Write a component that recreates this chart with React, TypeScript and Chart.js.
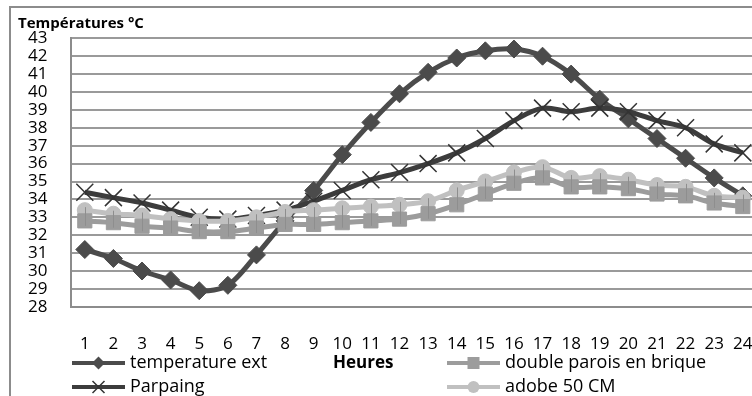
import React, { useEffect, useRef } from 'react';
import { Chart, registerables } from 'chart.js';

Chart.register(...registerables);

const hours = ['1', '2', '3', '4', '5', '6', '7', '8', '9', '10', '11', '12', '13', '14', '15', '16', '17', '18', '19', '20', '21', '22', '23', '24'];
const temperatureExt = [31.2, 30.7, 30.0, 29.5, 28.9, 29.2, 30.9, 32.8, 34.5, 36.5, 38.3, 39.9, 41.1, 41.9, 42.3, 42.4, 42.0, 41.0, 39.6, 38.5, 37.4, 36.3, 35.2, 34.2];
const parpaing = [34.4, 34.1, 33.8, 33.4, 33.0, 32.9, 33.1, 33.4, 33.9, 34.5, 35.1, 35.5, 36.0, 36.6, 37.4, 38.4, 39.1, 38.9, 39.1, 38.9, 38.4, 38.0, 37.1, 36.6];
const doubleParois = [32.8, 32.7, 32.5, 32.4, 32.2, 32.2, 32.4, 32.6, 32.6, 32.7, 32.8, 32.9, 33.2, 33.7, 34.3, 34.9, 35.2, 34.7, 34.7, 34.6, 34.3, 34.2, 33.8, 33.6];
const adobe = [33.4, 33.2, 33.1, 32.9, 32.8, 32.8, 33.0, 33.3, 33.4, 33.5, 33.6, 33.7, 33.9, 34.5, 35.0, 35.5, 35.8, 35.2, 35.3, 35.1, 34.8, 34.7, 34.2, 34.1];
const yMin = 28;
const yMax = 43;

const FONT = '"Open Sans", Lato, sans-serif';
const CW = 780;
const CH = 420;

const C_TEMP = '#4b4b4b';
const C_PARP = '#3c3c3c';
const C_BRIQ = '#9c9c9c';
const C_ADOB = '#c0c0c0';

function drawMarker(ctx: CanvasRenderingContext2D, kind: string, x: number, y: number, color: string) {
  ctx.save();
  ctx.fillStyle = color;
  ctx.strokeStyle = color;
  ctx.beginPath();
  if (kind === 'diamond') {
    const r = 6.5;
    ctx.moveTo(x, y - r); ctx.lineTo(x + r, y); ctx.lineTo(x, y + r); ctx.lineTo(x - r, y); ctx.closePath(); ctx.fill();
  } else if (kind === 'square') {
    const s = 6;
    ctx.rect(x - s, y - s, 2 * s, 2 * s); ctx.fill();
  } else if (kind === 'circle') {
    ctx.arc(x, y, 6, 0, Math.PI * 2); ctx.fill();
  } else if (kind === 'cross') {
    const r = 6;
    ctx.lineWidth = 1.5;
    ctx.strokeStyle = '#333';
    ctx.moveTo(x - r, y - r); ctx.lineTo(x + r, y + r);
    ctx.moveTo(x + r, y - r); ctx.lineTo(x - r, y + r);
    ctx.stroke();
  }
  ctx.restore();
}

const decorPlugin = {
  id: 'decor',
  beforeDraw(chart: any) {
    const ctx = chart.ctx as CanvasRenderingContext2D;
    ctx.save();
    ctx.fillStyle = '#ffffff';
    ctx.fillRect(0, 0, chart.width, chart.height);
    ctx.strokeStyle = '#8c8c8c';
    ctx.lineWidth = 2;
    ctx.strokeRect(10, 7, 2000, 2000);
    ctx.restore();
  },
  afterDatasetsDraw(chart: any) {
    // thin vertical bars joining the adobe and brick points
    const ctx = chart.ctx as CanvasRenderingContext2D;
    const x = chart.scales.x;
    const y = chart.scales.y;
    ctx.save();
    ctx.strokeStyle = '#8e8e8e';
    ctx.lineWidth = 1;
    for (let i = 0; i < hours.length; i++) {
      const px = Math.round(x.getPixelForValue(i)) + 0.5;
      const y1 = y.getPixelForValue(adobe[i]) - 3;
      const y2 = y.getPixelForValue(doubleParois[i]) + 5;
      ctx.beginPath();
      ctx.moveTo(px, y1);
      ctx.lineTo(px, y2);
      ctx.stroke();
    }
    ctx.restore();
  },
  afterDraw(chart: any) {
    const ctx = chart.ctx as CanvasRenderingContext2D;
    ctx.save();
    ctx.fillStyle = '#000';
    ctx.textBaseline = 'middle';
    ctx.textAlign = 'left';
    ctx.font = `bold 15px ${FONT}`;
    ctx.fillText('Températures °C', 18, 24);

    ctx.font = `bold 17px ${FONT}`;
    ctx.fillText('Heures', 333, 363);

    const items = [
      { label: 'temperature ext', x: 72, y: 363, color: C_TEMP, kind: 'diamond' },
      { label: 'double parois en brique', x: 447, y: 363, color: C_BRIQ, kind: 'square' },
      { label: 'Parpaing', x: 72, y: 387, color: C_PARP, kind: 'cross' },
      { label: 'adobe 50 CM', x: 447, y: 387, color: C_ADOB, kind: 'circle' },
    ];
    ctx.font = `18px ${FONT}`;
    for (const it of items) {
      ctx.strokeStyle = it.color;
      ctx.lineWidth = 4;
      ctx.beginPath();
      ctx.moveTo(it.x, it.y);
      ctx.lineTo(it.x + 53, it.y);
      ctx.stroke();
      drawMarker(ctx, it.kind, it.x + 26.5, it.y, it.color);
      ctx.fillStyle = '#000';
      ctx.fillText(it.label, it.x + 58, it.y);
    }
    ctx.restore();
  },
};

export default function App() {
  const ref = useRef<HTMLCanvasElement | null>(null);

  useEffect(() => {
    if (!ref.current) return;
    const chart = new Chart(ref.current, {
      type: 'line',
      data: {
        labels: hours,
        datasets: [
          {
            label: 'temperature ext',
            data: temperatureExt,
            order: 4,
            borderColor: C_TEMP,
            backgroundColor: C_TEMP,
            borderWidth: 5,
            tension: 0.3,
            pointStyle: 'rectRot',
            pointRadius: 9,
            pointBackgroundColor: C_TEMP,
            pointBorderColor: C_TEMP,
            pointBorderWidth: 1,
          },
          {
            label: 'Parpaing',
            data: parpaing,
            order: 3,
            borderColor: C_PARP,
            backgroundColor: C_PARP,
            borderWidth: 5,
            tension: 0.35,
            pointStyle: 'crossRot',
            pointRadius: 12,
            pointBorderColor: '#333333',
            pointBorderWidth: 1.5,
          },
          {
            label: 'adobe 50 CM',
            data: adobe,
            order: 2,
            borderColor: C_ADOB,
            backgroundColor: C_ADOB,
            borderWidth: 5,
            tension: 0.35,
            pointStyle: 'circle',
            pointRadius: 7.5,
            pointBackgroundColor: C_ADOB,
            pointBorderColor: C_ADOB,
            pointBorderWidth: 1,
          },
          {
            label: 'double parois en brique',
            data: doubleParois,
            order: 1,
            borderColor: C_BRIQ,
            backgroundColor: C_BRIQ,
            borderWidth: 5,
            tension: 0.35,
            pointStyle: 'rect',
            pointRadius: 10,
            pointBackgroundColor: C_BRIQ,
            pointBorderColor: C_BRIQ,
            pointBorderWidth: 1,
          },
        ],
      },
      options: {
        responsive: false,
        animation: false,
        devicePixelRatio: 1,
        layout: { padding: { left: 0, top: 38.3, right: CW - 757.4, bottom: 0 } },
        plugins: {
          legend: { display: false },
          title: { display: false },
          tooltip: { enabled: false },
        },
        scales: {
          x: {
            type: 'category',
            offset: true,
            grid: { display: false, drawTicks: false },
            border: { display: true, color: '#8c8c8c', width: 2 },
            ticks: { padding: 27, color: '#000', font: { family: FONT, size: 17 }, maxRotation: 0, autoSkip: false },
            afterFit: (s: any) => { s.height = CH - 306.8; },
          },
          y: {
            min: yMin,
            max: yMax,
            ticks: { stepSize: 1, autoSkip: false, padding: 23, color: '#000', font: { family: FONT, size: 17, lineHeight: 1 } },
            grid: { color: '#9a9a9a', lineWidth: 2, drawTicks: false },
            border: { display: true, color: '#8c8c8c', width: 2 },
            afterFit: (s: any) => { s.width = 70.5; },
          },
        },
      },
      plugins: [decorPlugin],
    });
    return () => chart.destroy();
  }, []);

  return (
    <div style={{ position: 'fixed', left: 0, top: 0, width: 752, height: 396, overflow: 'hidden', background: '#fff' }}>
      <canvas ref={ref} width={CW} height={CH} style={{ display: 'block', width: CW, height: CH }} />
    </div>
  );
}
